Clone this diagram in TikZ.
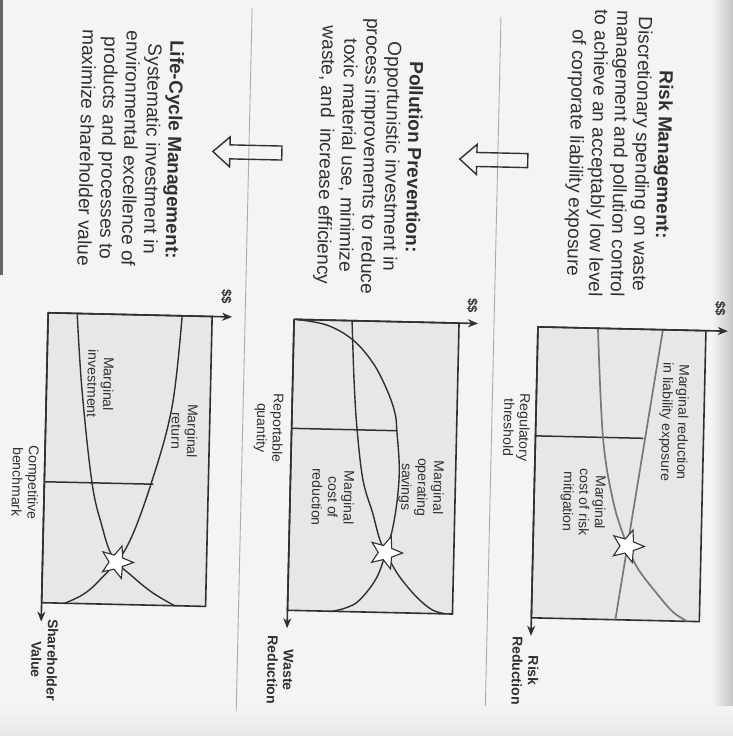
\documentclass[tikz,border=0pt]{standalone}
\usepackage{fontspec}
\setmainfont{Liberation Sans}
\usetikzlibrary{arrows.meta,shapes.geometric,intersections}

\definecolor{paper}{RGB}{244,244,242}
\definecolor{panel}{RGB}{231,231,229}
\definecolor{ink}{RGB}{48,48,48}
\definecolor{softink}{RGB}{120,120,120}

\tikzset{
  vtext/.style={rotate=-90, align=center, inner sep=0pt, text=ink},
  blurb/.style={vtext, font=\fontsize{19}{22}\selectfont},
  curvelabel/.style={vtext, font=\fontsize{14}{16}\selectfont},
  axislabel/.style={vtext, font=\fontsize{14}{16}\selectfont\bfseries},
  money/.style={vtext, font=\fontsize{13}{15}\selectfont\bfseries},
  panelbox/.style={fill=panel, draw=ink, line width=1.6pt},
  axis/.style={draw=ink, line width=1.6pt, -{Stealth[length=10pt,width=8pt,inset=3pt]}},
  guide/.style={draw=ink, line width=1.5pt},
  curve/.style={draw=ink, line width=1.4pt},
  palecurve/.style={draw=softink, line width=1.7pt},
  meet/.style={star, star points=5, star point ratio=2.3, minimum size=34pt, rotate=-90,
               inner sep=0pt, fill=white, draw=ink, line width=1.1pt},
  divider/.style={draw=gray!65, line width=0.9pt},
  shiftarrow/.style={draw=ink, line width=1.4pt},
}

\begin{document}
\begin{tikzpicture}[x=1pt,y=-1pt]
\useasboundingbox (0,0) rectangle (733,736);
% paper and scanner edges
\fill[paper] (0,0) rectangle (733,736);
\shade[left color=paper, right color=gray!45] (712,0) rectangle (733,736);
\shade[top color=paper, bottom color=gray!18] (0,706) rectangle (733,736);
\fill[black!60] (0,0) rectangle (2.5,275);

\begin{scope}[rotate around={-1.3:(366,368)}, transform shape]

% ---- dividers and transition arrows
\draw[divider] (493,14) -- (493,703);
\draw[divider] (244,11) -- (244,714);
\draw[shiftarrow] (455,157) -- (472,142) -- (472,150) -- (523,150) -- (523,164) -- (472,164) -- (472,172) -- cycle;
\draw[shiftarrow] (208,155) -- (225,140) -- (225,148) -- (277,148) -- (277,162) -- (225,162) -- (225,170) -- cycle;

% ---- descriptions
\node[blurb] (riskText) at (614,148) {\textbf{Risk Management:}\\Discretionary spending on waste\\management and pollution control\\to achieve an acceptably low level\\of corporate liability exposure};
\node[blurb] (ppText) at (364,156) {\textbf{Pollution Prevention:}\\Opportunistic investment in\\process improvements to reduce\\toxic material use, minimize\\waste, and\ \ increase efficiency};
\node[blurb] (lcText) at (126,154) {\textbf{Life-Cycle Management:}\\Systematic investment in\\environmental excellence of\\products and processes to\\maximize shareholder value};

% ---- risk management chart
\coordinate (rO) at (537,323);
\draw[panelbox] (rO) rectangle (705,614);
\draw[guide] (rO |- 0,432) -- (645,432);
\draw[palecurve, name path=liab] (662,323) -- (621,614);
\draw[palecurve, name path=mitig] plot[smooth, tension=0.6] coordinates
  {(597,323) (604.5,432) (616,495) (629,534) (641.5,561) (662,587) (678.5,605) (693,614)};
\coordinate (rDollarEnd) at (727,323);
\coordinate (rRiskEnd) at (537,632);
\draw[axis] (rO) -- (rDollarEnd);
\draw[axis] (rO) -- (rRiskEnd);
\path[name intersections={of=liab and mitig, by=rMeet}];
\node[meet] (rStar) at (rMeet) {};
\node[money] (rDollar) at (719,301) {\$\$};
\node[axislabel] (rAxis) at (532,667) {Risk\\Reduction};
\node[curvelabel] (rLiab) at (675,415) {Marginal reduction\\in liability exposure};
\node[curvelabel] (rCost) at (586,497) {Marginal\\cost of risk\\mitigation};
\node[curvelabel] (rReg) at (518,424) {Regulatory\\threshold};

% ---- pollution prevention chart
\coordinate (mO) at (293,321);
\draw[panelbox] (mO) rectangle (458,612);
\draw[guide] (mO |- 0,430) -- (398,430);
\draw[curve, name path=save] plot[smooth, tension=0.6] coordinates
  {(295,321) (326,326) (352.4,340.3) (373,363) (387.5,389.5) (396,412.4) (398.4,431.3)
   (401.5,466) (400.5,496) (396.5,526.4) (391,548) (381.6,577) (365,600) (352,608) (338,612)};
\draw[curve, name path=cost] plot[smooth, tension=0.6] coordinates
  {(351,321) (354.3,380) (358.3,428) (365.5,480) (376,513) (384,540) (394,559.5)
   (404.6,576.3) (422,596) (438,608.5) (452,612)};
\coordinate (mDollarEnd) at (477,321);
\coordinate (mWasteEnd) at (293,630);
\draw[axis] (mO) -- (mDollarEnd);
\draw[axis] (mO) -- (mWasteEnd);
% the savings arc meets the cost curve twice; the star marks the lower crossing
\path[name intersections={of=cost and save, sort by=cost, by={mCross,mMeet}}];
\node[meet] (mStar) at (mMeet) {};
\node[money] (mDollar) at (471,303) {\$\$};
\node[axislabel] (mAxis) at (287,672) {Waste\\Reduction};
\node[curvelabel] (mRep) at (270,430) {Reportable\\quantity};
\node[curvelabel] (mSave) at (424,486) {Marginal\\operating\\savings};
\node[curvelabel] (mCost) at (336,498) {Marginal\\cost of\\reduction};

% ---- life-cycle management chart
\coordinate (lO) at (47,320);
\draw[panelbox] (lO) rectangle (211,610);
\draw[guide] (lO |- 0,489) -- (156,489);
\draw[curve, name path=inv] plot[smooth, tension=0.6] coordinates
  {(76,320) (82.5,396) (94.5,488) (105,530) (117,562.6) (137.6,582) (158,597.7) (180,610)};
\draw[curve, name path=ret] plot[smooth, tension=0.6] coordinates
  {(181,320) (173,411) (154,487.7) (131,552) (104.6,586) (88,601) (70,610)};
\coordinate (lDollarEnd) at (231,320);
\coordinate (lValueEnd) at (47,629);
\draw[axis] (lO) -- (lDollarEnd);
\draw[axis] (lO) -- (lValueEnd);
\path[name intersections={of=inv and ret, by=lMeet}];
\node[meet] (lStar) at (lMeet) {};
\node[money] (lDollar) at (225,300) {\$\$};
\node[axislabel] (lAxis) at (51,667) {Shareholder\\Value};
\node[curvelabel] (lInv) at (101,390) {Marginal\\investment};
\node[curvelabel] (lRet) at (186,435) {Marginal\\return};
\node[curvelabel] (lBench) at (28,490) {Competitive\\benchmark};

\end{scope}
\end{tikzpicture}
\end{document}
